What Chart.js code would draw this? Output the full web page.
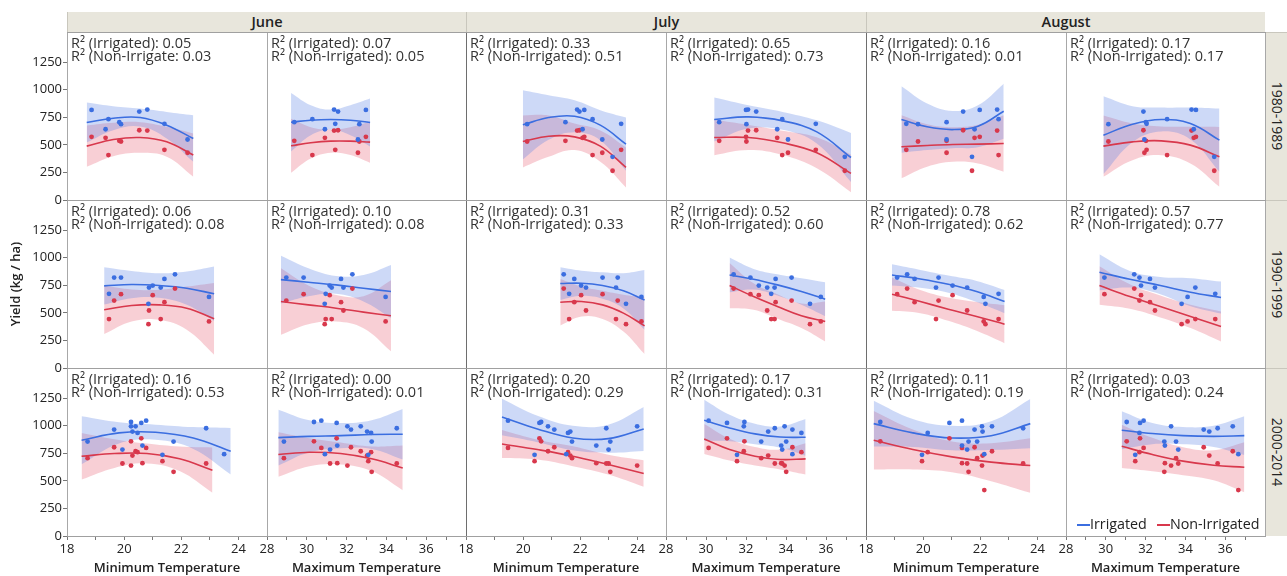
<!DOCTYPE html>
<html>
<head>
<meta charset="utf-8">
<script src="https://cdn.jsdelivr.net/npm/chart.js@4/dist/chart.umd.min.js"></script>
<style>
  body { margin: 0; background: #fff; font-family: "Open Sans", "Noto Sans", sans-serif; color: #222; }
  #wrap { position: relative; width: 1287px; height: 576px; overflow: hidden; }
  #wrap canvas, .abs { position: absolute; }
  .abs { pointer-events: none; }
  .strip { background: #e8e6dc; }
  .r2 { font-size: 14.5px; line-height: 13px; white-space: nowrap; color: #333; }
</style>
</head>
<body>
<div id="wrap"></div>
<script>
// facet labels
var months = ['June', 'July', 'August'];
var periods = ['1980-1989', '1990-1999', '2000-2014'];
var tempTitles = ['Minimum Temperature', 'Maximum Temperature'];

// axis ranges and tick labels
var minTempRange = [18, 25];
var maxTempRange = [28, 38];
var minTempTicks = [18, 20, 22, 24];
var maxTempTicks = [28, 30, 32, 34, 36];
var yieldRange = [0, 1522];
var yieldTicks = [0, 250, 500, 750, 1000, 1250];

// R2 labels, panel order: row by row, June min, June max, July min, July max, Aug min, Aug max
var r2Irr = ['0.05', '0.07', '0.33', '0.65', '0.16', '0.17',
             '0.06', '0.10', '0.31', '0.52', '0.78', '0.57',
             '0.16', '0.00', '0.20', '0.17', '0.11', '0.03'];
var r2Non = ['0.03', '0.05', '0.51', '0.73', '0.01', '0.17',
             '0.08', '0.08', '0.33', '0.60', '0.62', '0.77',
             '0.53', '0.01', '0.29', '0.31', '0.19', '0.24'];

// yields per year (kg/ha)
var irr80 = [687, 705, 819, 801, 641, 816, 732, 548, 391, 690];
var non80 = [530, 536, 629, 632, 563, 572, 407, 428, 265, 455];
var irr90 = [849, 807, 672, 747, 729, 819, 729, 819, 581, 644];
var non90 = [720, 596, 443, 660, 521, 669, 443, 611, 397, 422];
var irr00 = [855, 964, 783, 1033, 994, 946, 994, 934, 1024, 819, 1045, 735, 855, 976, 741];
var non00 = [705, 804, 657, 858, 638, 729, 768, 759, 885, 660, 798, 678, 581, 657, 416];
// last 2000s year has no non-irrigated value for June and July
var non00MissingYear = 14;
var non00MissingCols = [0, 1, 2, 3];

// temperatures per year: June min, June max, July min, July max, Aug min, Aug max
var temp80 = [
  [19.89, 19.83, 20.81, 20.53, 19.35, 18.86, 19.45, 22.22, null, 21.41],
  [32.64, 29.37, 31.37, 31.57, 30.91, 32.97, 30.28, 32.57, null, 31.43],
  [20.14, 21.48, 21.89, 21.97, 22.08, 22.14, 22.43, 22.77, 23.13, 23.43],
  [32.02, 30.66, 32.10, 32.51, 33.56, 32.00, 33.81, 34.10, 36.94, 35.49],
  [19.82, 20.82, 22.59, 21.40, 21.80, 21.98, 22.64, 20.82, 21.71, 19.41],
  [30.13, 32.02, 34.31, 31.89, 34.42, 34.53, 33.08, 31.94, 35.45, 32.05]
];
var temp90 = [
  [21.78, 21.41, 19.47, 21.00, 20.87, 19.89, 21.28, 19.65, 20.85, 22.97],
  [32.29, 31.72, 30.95, 31.15, 31.84, 29.84, 31.25, 28.97, 30.90, 33.96],
  [21.42, 21.79, 21.61, 22.03, 22.20, 22.78, 23.25, 23.31, 23.60, 24.14],
  [31.38, 33.48, 33.26, 32.64, 33.06, 32.22, 33.43, 34.28, 35.20, 35.74],
  [19.44, 19.70, 22.64, 21.03, 21.54, 19.09, 20.45, 20.54, 22.18, 22.12],
  [31.43, 32.22, 35.50, 31.77, 32.47, 29.93, 34.50, 31.69, 33.81, 34.11]
];
var temp00 = [
  [18.72, 19.65, 19.94, 20.24, 20.24, 20.29, 20.40, 20.47, 20.60, 20.64, 20.77, 21.34, 21.73, 22.87, 23.50],
  [28.85, 32.22, 31.17, 30.36, 32.04, 33.03, 32.71, 33.23, 31.50, 31.53, 30.73, 33.09, 33.26, 34.52, 30.91],
  [21.71, 21.09, 22.99, 20.63, 23.99, 21.65, 20.87, 21.57, 20.57, 22.56, 19.47, 20.40, 23.05, 22.91, 21.51],
  [32.76, 34.32, 33.81, 31.92, 33.93, 33.11, 31.89, 34.77, 31.05, 33.76, 30.13, 31.55, 34.01, 33.44, 34.32],
  [21.89, 21.80, 21.54, 18.50, 22.06, 22.08, 22.41, 20.16, 20.92, 21.36, 21.36, 19.96, 21.59, 23.50, 22.14],
  [33.53, 34.92, 33.64, 31.05, 33.28, 35.20, 36.38, 31.69, 31.72, 32.97, 31.90, 31.48, 32.94, 35.62, 36.66]
];

// fitted curves: x positions, fit value, half width of the band
var fitX = [
  [18.69, 19.62, 20.56, 21.49, 22.42], [29.21, 30.20, 31.20, 32.19, 33.18],
  [19.99, 20.89, 21.80, 22.70, 23.60], [30.41, 32.12, 33.83, 35.54, 37.25],
  [19.24, 20.14, 21.03, 21.92, 22.82], [29.88, 31.34, 32.79, 34.25, 35.71],
  [19.30, 20.26, 21.23, 22.19, 23.15], [28.70, 30.08, 31.47, 32.85, 34.23],
  [21.30, 22.04, 22.78, 23.51, 24.25], [31.18, 32.38, 33.57, 34.77, 35.96],
  [18.91, 19.90, 20.88, 21.87, 22.85], [29.68, 31.21, 32.74, 34.26, 35.79],
  [18.51, 19.82, 21.10, 22.42, 23.73], [28.57, 30.13, 31.70, 33.26, 34.82],
  [19.26, 20.50, 21.74, 22.98, 24.22], [29.91, 31.18, 32.45, 33.71, 34.98],
  [18.27, 19.64, 21.01, 22.38, 23.75], [30.80, 32.34, 33.88, 35.42, 36.96]
];
var fitXNon12 = [18.51, 19.66, 20.80, 21.94, 23.09];
var fitIrr = [
  [702, 741, 747, 678, 557], [705, 723, 729, 723, 702],
  [681, 747, 759, 678, 506], [729, 753, 717, 617, 385],
  [729, 663, 638, 669, 804], [587, 687, 729, 693, 542],
  [744, 756, 747, 723, 672], [801, 777, 753, 723, 693],
  [765, 768, 747, 699, 617], [843, 804, 753, 693, 623],
  [843, 807, 759, 693, 602], [867, 804, 747, 687, 638],
  [867, 934, 940, 888, 768], [891, 903, 909, 919, 922],
  [1078, 970, 888, 882, 970], [1048, 979, 925, 897, 894],
  [1018, 934, 888, 909, 1018], [958, 928, 909, 903, 909]
];
var hwIrr = [
  [181, 108, 81, 120, 211], [265, 136, 90, 136, 217],
  [313, 202, 145, 136, 241], [199, 105, 81, 105, 223],
  [301, 211, 169, 190, 250], [352, 163, 108, 145, 286],
  [169, 123, 111, 151, 247], [217, 127, 81, 120, 241],
  [148, 114, 120, 160, 271], [157, 93, 96, 120, 154],
  [96, 81, 78, 96, 105], [163, 75, 78, 127, 145],
  [217, 96, 69, 99, 211], [253, 145, 114, 130, 229],
  [166, 120, 111, 127, 199], [187, 120, 93, 96, 166],
  [208, 127, 111, 130, 223], [172, 96, 78, 96, 175]
];
var fitNon = [
  [488, 548, 566, 527, 407], [491, 518, 533, 533, 524],
  [530, 578, 572, 488, 295], [566, 566, 518, 428, 241],
  [482, 494, 503, 506, 512], [488, 527, 536, 497, 391],
  [527, 566, 572, 542, 446], [602, 572, 542, 506, 473],
  [596, 602, 572, 497, 382], [747, 647, 557, 473, 422],
  [669, 602, 533, 467, 397], [747, 647, 557, 467, 376],
  [723, 747, 747, 699, 596], [738, 759, 747, 699, 617],
  [834, 783, 723, 647, 566], [879, 783, 723, 693, 699],
  [867, 783, 717, 669, 638], [813, 738, 678, 641, 623]
];
var hwNon = [
  [187, 151, 139, 136, 196], [244, 142, 105, 126, 187],
  [235, 187, 120, 142, 181], [160, 114, 110, 140, 170],
  [286, 193, 157, 175, 256], [277, 166, 130, 166, 271],
  [220, 145, 136, 196, 325], [301, 175, 120, 145, 322],
  [211, 136, 127, 166, 256], [205, 120, 111, 111, 181],
  [151, 105, 105, 130, 172], [175, 111, 99, 105, 136],
  [211, 130, 90, 111, 205], [202, 127, 99, 111, 202],
  [127, 90, 90, 90, 120], [136, 99, 84, 90, 142],
  [265, 181, 139, 172, 247], [196, 151, 127, 136, 226]
];

var blue = '#3b6ee0', red = '#d8384c';
var blueBand = 'rgba(90, 128, 230, 0.30)', redBand = 'rgba(232, 96, 116, 0.30)';
var font = '"Open Sans", "Noto Sans", sans-serif';

var colX = [67, 267, 466, 666, 866, 1066, 1265];
var rowY = [32, 200, 368, 536];
var M = 10;
var wrap = document.getElementById('wrap');

function addDiv(css, html, cls) {
  var d = document.createElement('div');
  d.className = 'abs' + (cls ? ' ' + cls : '');
  d.style.cssText = css;
  if (html) d.innerHTML = html;
  wrap.appendChild(d);
  return d;
}

function curve(xs, ys, hw, k) {
  return xs.map(function(x, i) { return {x: x, y: ys[i] + k * hw[i]}; });
}

function lineDs(data, color, width, fill, bg) {
  return {
    data: data, showLine: true, borderColor: color, borderWidth: width,
    pointRadius: 0, tension: 0.4, fill: fill, backgroundColor: bg || 'transparent'
  };
}

var yieldSets = [[irr80, non80, temp80], [irr90, non90, temp90], [irr00, non00, temp00]];

for (var p = 0; p < 18; p++) {
  (function(p) {
    var r = Math.floor(p / 6), c = p % 6;
    var isMin = c % 2 === 0;
    var showX = r === 2, showY = c === 0;
    var irr = yieldSets[r][0], non = yieldSets[r][1], temps = yieldSets[r][2][c];

    var ptsIrr = [], ptsNon = [];
    temps.forEach(function(t, i) {
      if (t === null) return;
      ptsIrr.push({x: t, y: irr[i]});
      var skip = r === 2 && i === non00MissingYear && non00MissingCols.indexOf(c) >= 0;
      if (!skip) ptsNon.push({x: t, y: non[i]});
    });
    var xsI = fitX[p], xsN = p === 12 ? fitXNon12 : fitX[p];

    var datasets = [
      {data: ptsIrr, showLine: false, pointRadius: 2.4, pointBorderWidth: 0, backgroundColor: blue, borderColor: blue},
      {data: ptsNon, showLine: false, pointRadius: 2.4, pointBorderWidth: 0, backgroundColor: red, borderColor: red},
      lineDs(curve(xsI, fitIrr[p], hwIrr[p], 0), blue, 1.6, false),
      lineDs(curve(xsN, fitNon[p], hwNon[p], 0), red, 1.6, false),
      lineDs(curve(xsI, fitIrr[p], hwIrr[p], -1), 'transparent', 1, false),
      lineDs(curve(xsI, fitIrr[p], hwIrr[p], 1), 'transparent', 1, '-1', blueBand),
      lineDs(curve(xsN, fitNon[p], hwNon[p], -1), 'transparent', 1, false),
      lineDs(curve(xsN, fitNon[p], hwNon[p], 1), 'transparent', 1, '-1', redBand)
    ];

    var left = showY ? 0 : colX[c] - M;
    var top = rowY[r] - M;
    var right = colX[c + 1] + M;
    var bottom = showX ? 576 : rowY[r + 1] + M;
    var cv = document.createElement('canvas');
    cv.width = right - left;
    cv.height = bottom - top;
    cv.style.left = left + 'px';
    cv.style.top = top + 'px';
    wrap.appendChild(cv);

    var xr = isMin ? minTempRange : maxTempRange;
    var xLabels = isMin ? minTempTicks : maxTempTicks;

    new Chart(cv, {
      type: 'line',
      data: {datasets: datasets},
      options: {
        responsive: false,
        animation: false,
        events: [],
        layout: {autoPadding: false, padding: {left: showY ? 0 : M, right: M, top: M, bottom: showX ? 0 : M}},
        plugins: {legend: {display: false}, tooltip: {enabled: false}},
        scales: {
          x: {
            type: 'linear', min: xr[0], max: xr[1], display: showX,
            afterBuildTicks: function(s) {
              var t = [];
              for (var v = xr[0]; v < xr[1]; v++) t.push({value: v});
              s.ticks = t;
            },
            afterFit: function(s) { s.height = showX ? 40 : 0; },
            border: {display: false},
            grid: {drawOnChartArea: false, tickLength: 4, tickColor: '#777'},
            ticks: {
              autoSkip: false, maxRotation: 0, padding: 1, color: '#222',
              font: {family: font, size: 13},
              callback: function(v) { return xLabels.indexOf(v) >= 0 ? String(v) : ''; }
            },
            title: {
              display: true, text: tempTitles[c % 2], color: '#222',
              font: {family: font, size: 13, weight: '600'}, padding: {top: 0, bottom: 0}
            }
          },
          y: {
            min: yieldRange[0], max: yieldRange[1], display: showY,
            afterBuildTicks: function(s) {
              s.ticks = yieldTicks.map(function(v) { return {value: v}; });
            },
            afterFit: function(s) { s.width = showY ? colX[0] : 0; },
            border: {display: false},
            grid: {drawOnChartArea: false, tickLength: 4, tickColor: '#777'},
            ticks: {
              padding: 1, color: '#222', font: {family: font, size: 13},
              callback: function(v) { return String(v); }
            },
            title: {
              display: r === 1, text: 'Yield (kg / ha)', color: '#222',
              font: {family: font, size: 13, weight: '600'}, padding: {top: 8, bottom: 0}
            }
          }
        }
      }
    });

    addDiv('left:' + (colX[c] + 4) + 'px;top:' + (rowY[r] + 4) + 'px;',
      'R\u00b2 (Irrigated): ' + r2Irr[p] + '<br>' +
      (p === 0 ? 'R\u00b2 (Non-Irrigate: ' : 'R\u00b2 (Non-Irrigated): ') + r2Non[p], 'r2');
  })(p);
}

// frame lines
for (var i = 0; i < colX.length; i++) {
  var dark = i === 2 || i === 4;
  addDiv('left:' + colX[i] + 'px;top:' + rowY[0] + 'px;width:1px;height:' + (rowY[3] - rowY[0]) +
    'px;background:' + (dark ? '#6e6e6e' : '#a8a8a8') + ';');
}
for (var j = 0; j < rowY.length; j++) {
  addDiv('left:' + colX[0] + 'px;top:' + rowY[j] + 'px;width:' + (colX[6] - colX[0] + 1) +
    'px;height:1px;background:#a0a0a0;');
}

// month header strip
months.forEach(function(m, k) {
  var x0 = colX[k * 2], x1 = colX[k * 2 + 2];
  addDiv('left:' + x0 + 'px;top:12px;width:' + (x1 - x0) + 'px;height:20px;' +
    'border-left:1px solid #c9c7bd;box-sizing:border-box;text-align:center;' +
    'font-size:14.5px;line-height:20px;font-weight:600;color:#222;', m, 'strip');
});

// period strip on the right
periods.forEach(function(pr, k) {
  var y0 = rowY[k], y1 = rowY[k + 1];
  addDiv('left:' + (colX[6] + 1) + 'px;top:' + y0 + 'px;width:22px;height:' + (y1 - y0) + 'px;' +
    'border-top:1px solid #c9c7bd;box-sizing:border-box;', '', 'strip');
  addDiv('left:' + (colX[6] + 1 + 11 - 50) + 'px;top:' + ((y0 + y1) / 2 - 10) + 'px;width:100px;height:20px;' +
    'text-align:center;font-size:14px;line-height:20px;transform:rotate(90deg);color:#222;', pr);
});

// legend
addDiv('left:1077px;top:514px;font-size:14.3px;line-height:19px;white-space:nowrap;color:#222;',
  '<span style="display:inline-block;width:13px;height:2px;background:' + blue + ';vertical-align:middle;"></span>Irrigated' +
  '<span style="display:inline-block;width:13px;height:2px;background:' + red + ';vertical-align:middle;margin-left:10px;"></span>Non-Irrigated');
</script>
</body>
</html>
